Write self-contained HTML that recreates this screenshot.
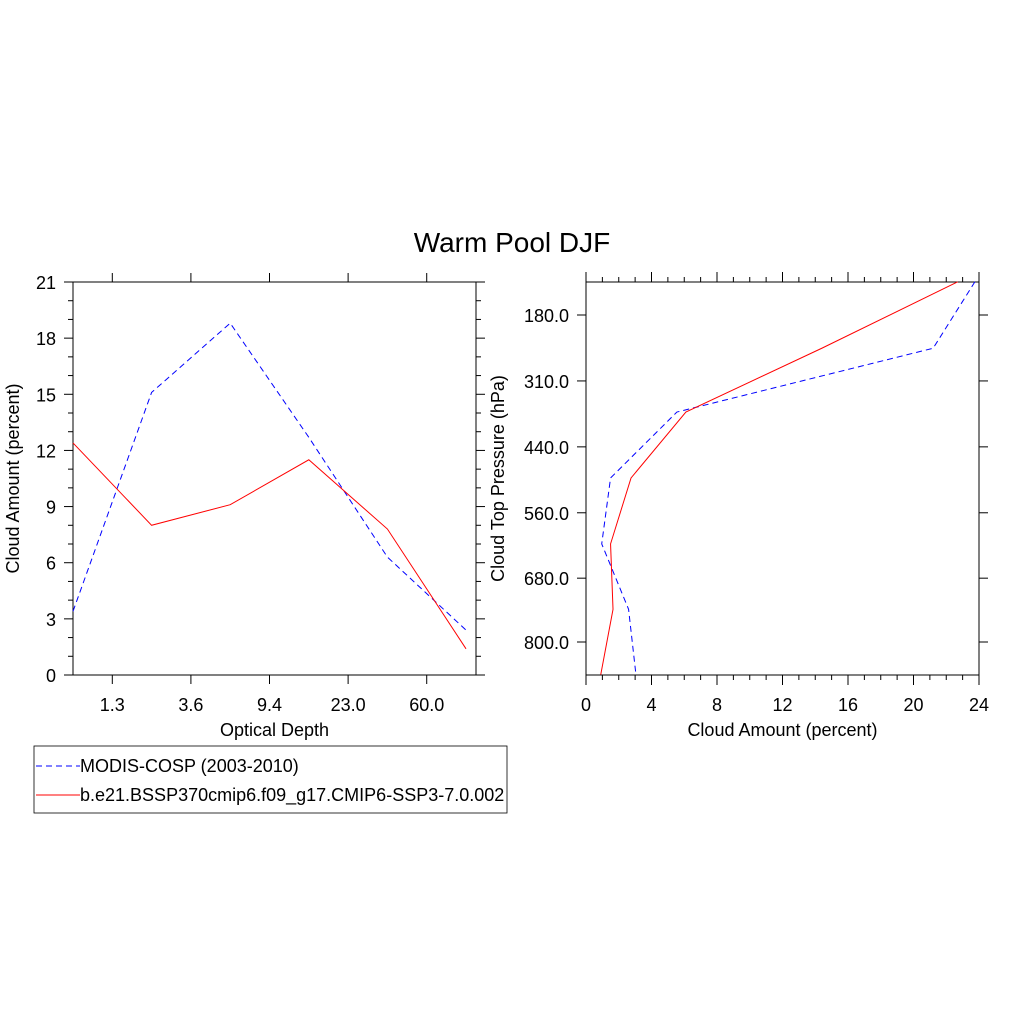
<!DOCTYPE html>
<html><head><meta charset="utf-8"><style>
body{margin:0;background:#fff}
svg text{font-family:"Liberation Sans",Arial,sans-serif;fill:#000}
</style></head><body>
<svg id="chart" width="1024" height="1024" viewBox="0 0 1024 1024">
<rect width="1024" height="1024" fill="#fff"/>
<text x="512" y="252" font-size="28" text-anchor="middle">Warm Pool DJF</text>
<g id="left"></g>
<g id="right"></g>
<g>
<rect x="34" y="746" width="473" height="67" fill="none" stroke="#000" stroke-width="0.8"/>
<line x1="36" y1="766" x2="80" y2="766" stroke="#0000ff" stroke-dasharray="6,4"/>
<text x="80" y="772" font-size="18">MODIS-COSP (2003-2010)</text>
<line x1="36" y1="795" x2="80" y2="795" stroke="#ff0000"/>
<text x="80" y="801" font-size="18">b.e21.BSSP370cmip6.f09_g17.CMIP6-SSP3-7.0.002</text>
</g>
</svg>
<script>
// Left chart data
const tauLabels = ["1.3","3.6","9.4","23.0","60.0"];
const modisTau = [3.4, 15.1, 18.8, 12.7, 6.3, 2.4];
const modelTau = [12.4, 8.0, 9.1, 11.5, 7.8, 1.4];
const leftYTicks = [0,3,6,9,12,15,18,21];
// Right chart data
const pressureLevels = [117, 243, 364, 489, 614, 738, 862];
const modisCtp = [23.75, 21.2, 5.55, 1.5, 0.96, 2.6, 3.05];
const modelCtp = [22.7, 14.4, 6.1, 2.75, 1.5, 1.65, 0.9];
const ctpTicks = ["180.0","310.0","440.0","560.0","680.0","800.0"];
const ctpTickVals = [180, 305, 430, 555, 679, 800];
const rightXTicks = [0,4,8,12,16,20,24];

const NS="http://www.w3.org/2000/svg";
function mk(parent,tag,attrs,txt){const e=document.createElementNS(NS,tag);for(const k in attrs)e.setAttribute(k,attrs[k]);if(txt!==undefined)e.textContent=txt;parent.appendChild(e);return e;}

// LEFT
const L=document.getElementById('left');
const lx0=73,lx1=476,ly0=282,ly1=675;
const lxs=i=>lx0+i*(lx1-lx0)/5.127;
const lys=v=>ly1-v*(ly1-ly0)/21;
let fr=mk(L,'rect',{x:lx0,y:ly0,width:lx1-lx0,height:ly1-ly0,fill:'none',stroke:'#000','stroke-width':1});


for(let v=0;v<=21;v++){
  const y=lys(v),len=v%3===0?9:5;
  mk(L,'line',{x1:lx0-len,y1:y,x2:lx0,y2:y,stroke:'#000'});
  mk(L,'line',{x1:lx1,y1:y,x2:lx1+len,y2:y,stroke:'#000'});
}
leftYTicks.forEach(v=>{
  const t=mk(L,'text',{x:lx0-17,y:lys(v)+7,'font-size':18,'text-anchor':'end'},String(v));
  
  
});
tauLabels.forEach((lab,i)=>{
  const x=lxs(i+0.5);
  mk(L,'line',{x1:x,y1:ly1,x2:x,y2:ly1+9,stroke:'#000'});
  mk(L,'line',{x1:x,y1:ly0-9,x2:x,y2:ly0,stroke:'#000'});
  const t=mk(L,'text',{x:x,y:ly1+36,'font-size':18,'text-anchor':'middle'},lab);
  
  
});
let t1=mk(L,'text',{x:(lx0+lx1)/2,y:736,'font-size':18,'text-anchor':'middle'},'Optical Depth');


let t2=mk(L,'text',{x:0,y:0,'font-size':18,'text-anchor':'middle',transform:`translate(19,${(ly0+ly1)/2}) rotate(-90)`},'Cloud Amount (percent)');


let p1=mk(L,'polyline',{points:modisTau.map((v,i)=>lxs(i)+','+lys(v)).join(' '),fill:'none',stroke:'#0000ff','stroke-dasharray':'6,4'});


let p2=mk(L,'polyline',{points:modelTau.map((v,i)=>lxs(i)+','+lys(v)).join(' '),fill:'none',stroke:'#ff0000'});



// RIGHT
const R=document.getElementById('right');
const rx0=586,rx1=979,ry0=282,ry1=675;
const rxs=v=>rx0+v*(rx1-rx0)/24;
const pTop=117.4,pBot=862.6;
const rys=p=>ry0+(p-pTop)*(ry1-ry0)/(pBot-pTop);
let fr2=mk(R,'rect',{x:rx0,y:ry0,width:rx1-rx0,height:ry1-ry0,fill:'none',stroke:'#000','stroke-width':1});


for(let v=0;v<=24;v++){
  const x=rxs(v),len=v%4===0?10:5;
  mk(R,'line',{x1:x,y1:ry1,x2:x,y2:ry1+len,stroke:'#000'});
  mk(R,'line',{x1:x,y1:ry0-len,x2:x,y2:ry0,stroke:'#000'});
}
rightXTicks.forEach(v=>{
  const t=mk(R,'text',{x:rxs(v),y:ry1+36,'font-size':18,'text-anchor':'middle'},String(v));
  
  
});
ctpTicks.forEach((lab,i)=>{
  const y=rys(ctpTickVals[i]);
  mk(R,'line',{x1:rx0-9,y1:y,x2:rx0,y2:y,stroke:'#000'});
  mk(R,'line',{x1:rx1,y1:y,x2:rx1+9,y2:y,stroke:'#000'});
  const t=mk(R,'text',{x:rx0-17,y:y+7,'font-size':18,'text-anchor':'end'},lab);
  
  
});
let t3=mk(R,'text',{x:(rx0+rx1)/2,y:736,'font-size':18,'text-anchor':'middle'},'Cloud Amount (percent)');


let t4=mk(R,'text',{x:0,y:0,'font-size':18,'text-anchor':'middle',transform:`translate(504,${(ry0+ry1)/2}) rotate(-90)`},'Cloud Top Pressure (hPa)');


let p3=mk(R,'polyline',{points:modisCtp.map((v,i)=>rxs(v)+','+rys(pressureLevels[i])).join(' '),fill:'none',stroke:'#0000ff','stroke-dasharray':'6,4'});


let p4=mk(R,'polyline',{points:modelCtp.map((v,i)=>rxs(v)+','+rys(pressureLevels[i])).join(' '),fill:'none',stroke:'#ff0000'});


</script>
</body></html>
